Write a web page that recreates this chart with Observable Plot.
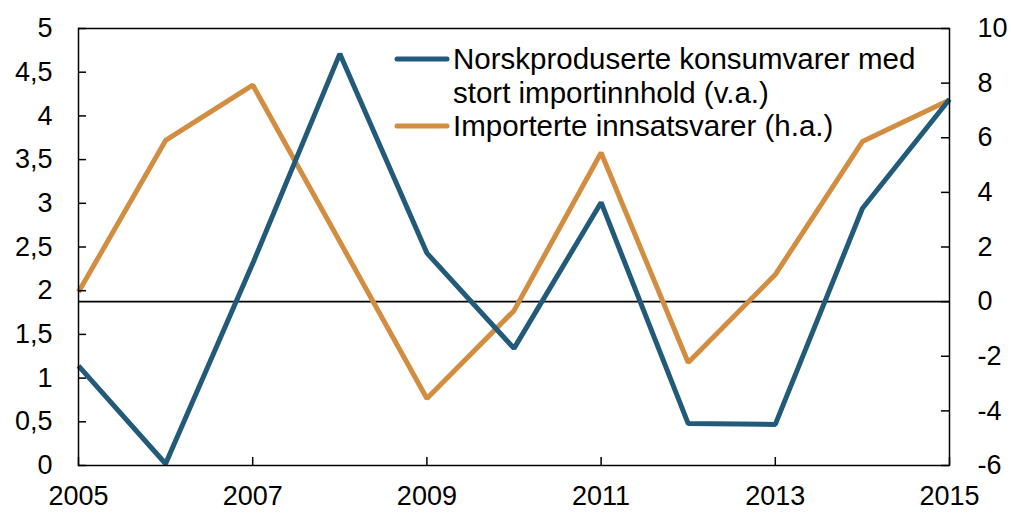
<!DOCTYPE html>
<html><head><meta charset="utf-8">
<script src="https://cdn.jsdelivr.net/npm/d3@7"></script>
<script src="https://cdn.jsdelivr.net/npm/@observablehq/plot@0.6"></script>
<style>body{margin:0;background:#fff}#chart svg{display:block}</style>
</head><body><div id="chart"></div>
<script>
// ---- data ----
const years = [2005, 2006, 2007, 2008, 2009, 2010, 2011, 2012, 2013, 2014, 2015];
const norskprodusert = [1.14, 0.02, 2.31, 4.71, 2.43, 1.34, 3.01, 0.48, 0.47, 2.94, 4.19]; // left axis
const importerte = [0.35, 5.9, 7.93, 2.2, -3.55, -0.33, 5.45, -2.23, 0.99, 5.86, 7.38];   // right axis
const leftTicks = [0, 0.5, 1, 1.5, 2, 2.5, 3, 3.5, 4, 4.5, 5];
const rightTicks = [-6, -4, -2, 0, 2, 4, 6, 8, 10];
const xTicks = [2005, 2007, 2009, 2011, 2013, 2015];
const legendLabels = [["Norskproduserte konsumvarer med", "stort importinnhold (v.a.)"], ["Importerte innsatsvarer (h.a.)"]];
const colors = ["#225b7a", "#d38d41"];

// ---- scale mapping for the secondary axis ----
const L0 = 0, L1 = 5, R0 = -6, R1 = 10;
const toLeft = v => L0 + (v - R0) * (L1 - L0) / (R1 - R0);
const fromLeft = v => R0 + (v - L0) * (R1 - R0) / (L1 - L0);
const fmt = d => String(d).replace(".", ",");

const rows = [];
years.forEach((y, i) => rows.push({year: y, v: norskprodusert[i], s: 0}));
years.forEach((y, i) => rows.push({year: y, v: toLeft(importerte[i]), s: 1}));

const W = 1011, H = 513, mL = 78, mR = 62, mT = 28, mB = 48;
const plotW = W - mL - mR, plotH = H - mT - mB, tk = 8;
const font = "'Liberation Sans', Arial, sans-serif";
const fs = 27, lfs = 29.5;

const chart = Plot.plot({
  width: W, height: H, marginLeft: mL, marginRight: mR, marginTop: mT, marginBottom: mB,
  style: {fontFamily: font, fontSize: fs + "px", color: "#000", background: "#fff", overflow: "visible"},
  x: {domain: [2005, 2015]},
  y: {domain: [L0, L1]},
  marks: [
    Plot.ruleY([toLeft(0)], {stroke: "#000", strokeWidth: 1.6}),
    Plot.line(rows.filter(d => d.s === 1), {x: "year", y: "v", stroke: colors[1], strokeWidth: 5, strokeLinejoin: "miter", strokeLinecap: "butt"}),
    Plot.line(rows.filter(d => d.s === 0), {x: "year", y: "v", stroke: colors[0], strokeWidth: 5, strokeLinejoin: "miter", strokeLinecap: "butt"}),
    Plot.tickY(leftTicks, {y: d => d, insetRight: plotW - tk, stroke: "#000", strokeWidth: 1.5}),
    Plot.tickY(rightTicks.map(toLeft), {y: d => d, insetLeft: plotW - tk, stroke: "#000", strokeWidth: 1.5}),
    Plot.tickX(xTicks, {x: d => d, insetTop: plotH - tk, stroke: "#000", strokeWidth: 1.5}),
    Plot.frame({stroke: "#000", strokeWidth: 1.5}),
    Plot.axisY(leftTicks, {anchor: "left", tickSize: 0, tickPadding: 26, tickFormat: fmt, label: null, fontSize: fs}),
    Plot.axisY(rightTicks.map(toLeft), {anchor: "right", tickSize: 0, tickPadding: 28, tickFormat: d => fmt(Math.round(fromLeft(d))), label: null, fontSize: fs, textAnchor: "start"}),
    Plot.axisX(xTicks, {anchor: "bottom", tickSize: 0, tickPadding: 20, tickFormat: d => String(d), label: null, fontSize: fs})
  ]
});
document.getElementById("chart").appendChild(chart);

// ---- legend inside the plot area ----
const svg = d3.select(chart);
const lg = svg.append("g").attr("font-family", font).attr("font-size", lfs).attr("text-anchor", "start");
const lx = 397, sw = 50, gap = 6, ly = 59, lh = 33.5;
let line = 0;
legendLabels.forEach((lines, i) => {
  const y0 = ly + line * lh;
  lg.append("line").attr("x1", lx).attr("x2", lx + sw).attr("y1", y0).attr("y2", y0)
    .attr("stroke", colors[i]).attr("stroke-width", 5).attr("stroke-linecap", "round");
  lines.forEach((t, j) => {
    lg.append("text").attr("x", lx + sw + gap).attr("y", ly + (line + j) * lh).attr("dy", "0.35em").text(t);
  });
  line += lines.length;
});
</script>
</body></html>
